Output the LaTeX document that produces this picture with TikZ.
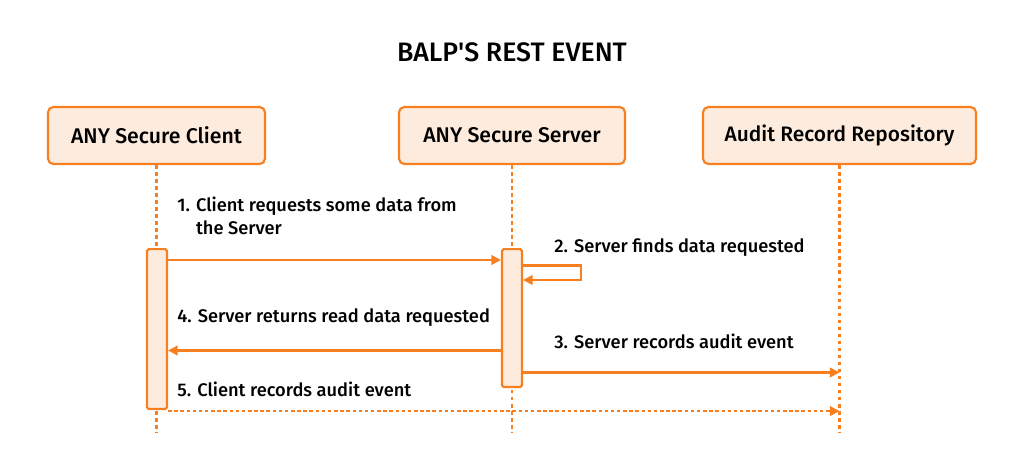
\documentclass[tikz,border=0pt]{standalone}
\usepackage{fontspec}
\setmainfont{Fira Sans}[UprightFont=* Medium, BoldFont=* SemiBold]
\usetikzlibrary{arrows.meta}
\definecolor{balporange}{RGB}{247,127,32}
\definecolor{balpfill}{RGB}{253,236,222}
\tikzset{
  actor/.style={draw=balporange, fill=balpfill, rounded corners=3pt, line width=1.2pt,
    minimum height=1.14cm, font=\fontsize{12.1}{14}\selectfont},
  bar/.style={draw=balporange, fill=balpfill, rounded corners=1pt, line width=1.2pt,
    minimum width=0.4cm, anchor=north, inner sep=0pt},
  life/.style={draw=balporange, line width=1.2pt, dash pattern=on 2pt off 2pt},
  msg/.style={draw=balporange, line width=1.2pt, -{Triangle[length=5.5pt,width=5.5pt]}},
  lbl/.style={anchor=west, font=\fontsize{10.4}{13}\selectfont, align=left, inner sep=0pt}
}
\begin{document}
\begin{tikzpicture}[x=0.02cm, y=-0.02cm]
\useasboundingbox (0,0) rectangle (1024,471);
\node[font=\fontsize{15.2}{18}\selectfont] (title) at (512,52) {BALP\textquotesingle S REST EVENT};

% actors and lifelines
\node[actor, minimum width=4.34cm] (client) at (156.5,135.5) {ANY Secure Client};
\node[actor, minimum width=4.52cm] (server) at (512,135.5) {ANY Secure Server};
\node[actor, minimum width=5.46cm, font=\fontsize{11.9}{14}\selectfont] (audit) at (839.5,135.5) {Audit Record Repository};
\foreach \n in {client,server,audit} \draw[life] (\n.south) -- ++(0,268);

\node[bar, minimum height=3.2cm] (cbar) at (157,248) {};
\node[bar, minimum height=2.76cm] (sbar) at (512,248) {};

% messages
\draw[msg] ([yshift=-0.24cm]cbar.north east) -- ([yshift=-0.24cm]sbar.north west);
\draw[msg] ([yshift=-0.35cm]sbar.north east) -- ++(1.16cm,0) -- ++(0,-0.29cm)
  -- ([yshift=-0.64cm]sbar.north east);
\draw[msg] ([yshift=-2.05cm]sbar.north west) -- ([yshift=-2.05cm]cbar.north east);
\draw[msg] ([yshift=-2.49cm]sbar.north east) coordinate (m3) -- (m3 -| audit.south);
\draw[msg, dash pattern=on 2pt off 1.5pt] ([yshift=-0.02cm]cbar.south east) coordinate (m5)
  -- (m5 -| audit.south);

\node[lbl] (l1) at (177,216) {1. Client requests some data from\\\phantom{1. }the Server};
\node[lbl] (l2) at (554,248) {2. Server finds data requested};
\node[lbl] (l3) at (554,341) {3. Server records audit event};
\node[lbl] (l4) at (177,318) {4. Server returns read data requested};
\node[lbl] (l5) at (177,389) {5. Client records audit event};
\end{tikzpicture}
\end{document}
